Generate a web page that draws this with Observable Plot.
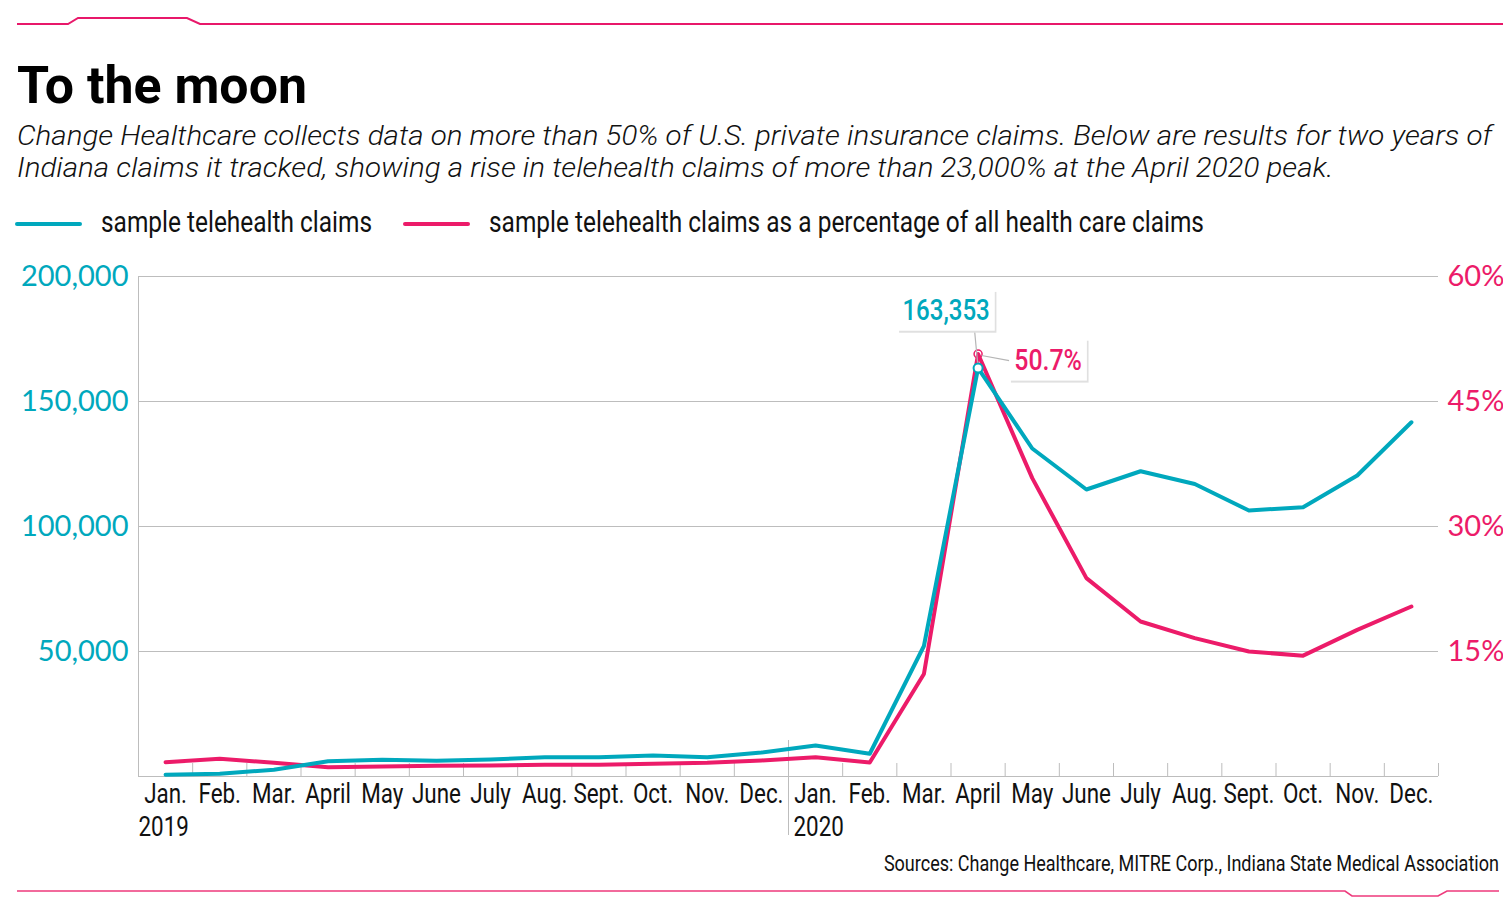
<!DOCTYPE html>
<html>
<head>
<meta charset="utf-8">
<script src="https://cdn.jsdelivr.net/npm/d3@7"></script>
<script src="https://cdn.jsdelivr.net/npm/@observablehq/plot@0.6"></script>
<style>
  html, body { margin: 0; padding: 0; background: #fff; }
  body { width: 1503px; height: 912px; position: relative; overflow: hidden; font-family: Roboto, sans-serif; }
  .abs { position: absolute; white-space: nowrap; }
  #title { left: 17px; top: 60px; font: 700 52px/52px Roboto, sans-serif; color: #000; }
  #sub { left: 17px; top: 121px; font: italic 300 27px/31.5px Roboto, sans-serif; color: #111; }
  .legtext { top: 208px; font: 400 29px/29px Roboto, sans-serif; color: #111; }
  #source { right: 4px; top: 853px; font: 400 22px/22px Roboto, sans-serif; color: #111; }
  #chart { position: absolute; left: 0; top: 250px; }
</style>
</head>
<body>
<svg class="abs" style="left:0;top:0" width="1503" height="30">
  <path d="M17,24 L68,24 L78,18 L187,18 L200,24 L1503,24" fill="none" stroke="#e8186a" stroke-width="2"/>
</svg>
<div id="title" class="abs">To the moon</div>
<div id="sub" class="abs">Change Healthcare collects data on more than 50% of U.S. private insurance claims. Below are results for two years of<br>Indiana claims it tracked, showing a rise in telehealth claims of more than 23,000% at the April 2020 peak.</div>
<svg class="abs" style="left:0;top:215px" width="500" height="20">
  <line x1="17" x2="80" y1="9" y2="9" stroke="#00a8bd" stroke-width="4" stroke-linecap="round"/>
  <line x1="405" x2="468" y1="9" y2="9" stroke="#ec1b69" stroke-width="4" stroke-linecap="round"/>
</svg>
<div id="leg1" class="abs legtext" style="left:101px">sample telehealth claims</div>
<div id="leg2" class="abs legtext" style="left:489px">sample telehealth claims as a percentage of all health care claims</div>
<div id="chart"></div>
<div id="source" class="abs">Sources: Change Healthcare, MITRE Corp., Indiana State Medical Association</div>
<svg class="abs" style="left:0;top:880px" width="1503" height="25">
  <path d="M17,11 L1345,11 L1352,16 L1438,16 L1447,11 L1499,11" fill="none" stroke="#ee3a7c" stroke-width="1.6"/>
</svg>
<script>
const teal = "#00a8bd";
const pink = "#ec1b69";
const grid = "#bdbdbd";

// Month labels (two years)
const months = ["Jan.", "Feb.", "Mar.", "April", "May", "June", "July", "Aug.", "Sept.", "Oct.", "Nov.", "Dec."];
const years = ["2019", "2020"];
const yearStartIndex = [0, 12];

// Sample telehealth claims (count)
const claims = [700, 1100, 2700, 6100, 6700, 6300, 6800, 7700, 7700, 8400, 7700, 9600,
                12400, 9100, 52200, 163353, 131200, 114800, 122100, 117000, 106400, 107700, 120400, 141700];

// Telehealth claims as % of all health care claims
const pct = [1.72, 2.12, 1.64, 1.12, 1.2, 1.28, 1.32, 1.4, 1.4, 1.52, 1.64, 1.92,
             2.32, 1.68, 12.3, 50.7, 35.8, 23.8, 18.6, 16.6, 15.0, 14.5, 17.6, 20.4];

// Axis ticks
const leftTicks = [50000, 100000, 150000, 200000];
const rightTickLabels = ["15%", "30%", "45%", "60%"];
const pctMax = 60, claimsMax = 200000;

const data = claims.map((c, i) => ({
  i: i + 0.5,
  month: months[i % 12],
  claims: c,
  pct: pct[i],
  pctY: pct[i] / pctMax * claimsMax
}));
const yearData = years.map((y, k) => ({year: y, i: yearStartIndex[k]}));
const peak = data[d3.maxIndex(data, d => d.claims)];
const peakPct = data[d3.maxIndex(data, d => d.pct)];

const tickFont = "Lato, 'Open Sans', sans-serif";
const condFont = "Roboto, sans-serif";

const chart = Plot.plot({
  width: 1503,
  height: 600,
  marginLeft: 138,
  marginRight: 65,
  marginTop: 26,
  marginBottom: 74,
  x: {domain: [0, 24], axis: null},
  y: {domain: [0, claimsMax], axis: null},
  style: {background: "transparent", overflow: "visible"},
  marks: [
    Plot.gridY(leftTicks, {stroke: grid, strokeOpacity: 1}),
    Plot.ruleX([0], {y1: 0, y2: claimsMax, stroke: grid}),
    Plot.ruleY([0], {stroke: grid}),
    Plot.ruleX(d3.range(1, 25).filter(d => d !== 12), {y1: 0, y2: 5200, stroke: grid}),
    Plot.ruleX([12], {y1: 14400, y2: -23600, stroke: grid}),
    Plot.axisY(leftTicks, {anchor: "left", tickSize: 0, tickPadding: 10, tickFormat: d3.format(","),
      fill: teal, fontSize: 29, fontWeight: 400, fontFamily: tickFont, label: null}),
    Plot.axisY(leftTicks, {anchor: "right", tickSize: 0, tickPadding: 9,
      tickFormat: d => rightTickLabels[leftTicks.indexOf(d)],
      fill: pink, fontSize: 29, fontWeight: 400, fontFamily: tickFont, label: null}),
    Plot.text(data, {x: "i", y: 0, text: "month", dy: 26.5, fontSize: 27, fontFamily: condFont, fill: "#111", className: "sq"}),
    Plot.text(yearData.slice(0, 1), {x: "i", y: 0, text: "year", textAnchor: "start", dx: 0, dy: 59.5, fontSize: 27, fontFamily: condFont, fill: "#111", className: "sq"}),
    Plot.text(yearData.slice(1), {x: "i", y: 0, text: "year", textAnchor: "start", dx: 5, dy: 59.5, fontSize: 27, fontFamily: condFont, fill: "#111", className: "sq"}),
    Plot.line(data, {x: "i", y: "pctY", stroke: pink, strokeWidth: 4, strokeLinejoin: "round", strokeLinecap: "round"}),
    Plot.dot([peakPct], {x: "i", y: "pctY", r: 4, stroke: pink, fill: "none", strokeWidth: 1.5}),
    Plot.line(data, {x: "i", y: "claims", stroke: teal, strokeWidth: 4, strokeLinejoin: "round", strokeLinecap: "round"}),
    Plot.dot([peak], {x: "i", y: "claims", r: 4.5, stroke: teal, fill: "white", strokeWidth: 2}),
    Plot.text([peak], {x: "i", y: "claims", text: d => d3.format(",")(d.claims), dx: -32, dy: -48,
      fill: teal, fontSize: 29, fontWeight: 500, fontFamily: condFont, className: "ann-teal"}),
    Plot.text([peakPct], {x: "i", y: "pctY", text: d => d.pct + "%", dx: 70, dy: 16,
      fill: pink, fontSize: 30, fontWeight: 500, fontFamily: condFont, className: "ann-pink"})
  ]
});
document.getElementById("chart").appendChild(chart);

// Condense the chart's label text horizontally
function squeeze(t, s) {
  const x = +t.getAttribute("x") || 0, y = +t.getAttribute("y") || 0;
  t.removeAttribute("x"); t.removeAttribute("y");
  const tr = t.getAttribute("transform") || "";
  t.setAttribute("transform", `${tr} translate(${x},${y}) scale(${s},1)`);
}
chart.querySelectorAll("g.sq text").forEach(t => squeeze(t, 0.83));
chart.querySelectorAll("g.ann-teal text, g.ann-pink text").forEach(t => squeeze(t, 0.83));

// Fit HTML text blocks to the reference widths
function fit(id, target, origin) {
  const el = document.getElementById(id);
  el.style.transformOrigin = (origin || "left") + " top";
  const w = el.getBoundingClientRect().width;
  el.style.transform = `scaleX(${target / w})`;
}
fit("title", 290);
fit("sub", 1475);
fit("leg1", 271);
fit("leg2", 715);
fit("source", 615, "right");

// Boxes behind annotation labels and leader lines
const NS = "http://www.w3.org/2000/svg";
const svgRect = chart.getBoundingClientRect();
function boxFor(cls) {
  const g = chart.querySelector("g." + cls);
  const t = g.querySelector("text");
  const b = t.getBBox();
  const tr = t.getAttribute("transform") || "";
  const padX = 6, padY = 3;
  const mk = (dx, dy, fill) => {
    const r = document.createElementNS(NS, "rect");
    r.setAttribute("x", b.x - padX + dx); r.setAttribute("y", b.y - padY + dy);
    r.setAttribute("width", b.width + 2 * padX); r.setAttribute("height", b.height + 2 * padY);
    r.setAttribute("fill", fill); r.setAttribute("stroke", "none");
    r.setAttribute("transform", tr);
    t.parentNode.insertBefore(r, t);
    return r;
  };
  mk(2, 2, "#e0e0e0");
  const r = mk(0, 0, "#fff");
  const rb = r.getBoundingClientRect();
  return {g, left: rb.left - svgRect.left, right: rb.right - svgRect.left, top: rb.top - svgRect.top, bottom: rb.bottom - svgRect.top};
}
const bt = boxFor("ann-teal");
const bp = boxFor("ann-pink");
const xs = chart.scale("x"), ys = chart.scale("y");
const px = xs.apply(peak.i), pyT = ys.apply(peak.claims), pyP = ys.apply(peakPct.pctY);
function leader(x1, y1, x2, y2) {
  const l = document.createElementNS(NS, "line");
  l.setAttribute("x1", x1); l.setAttribute("y1", y1); l.setAttribute("x2", x2); l.setAttribute("y2", y2);
  l.setAttribute("stroke", "#b5b5b5"); l.setAttribute("stroke-width", 1.2);
  chart.insertBefore(l, bt.g);
}
leader(px - 3, bt.bottom, px, pyT - 5);
leader(px + 4, pyP + 2, bp.left, (bp.top + bp.bottom) / 2 + 1);
</script>
</body>
</html>
